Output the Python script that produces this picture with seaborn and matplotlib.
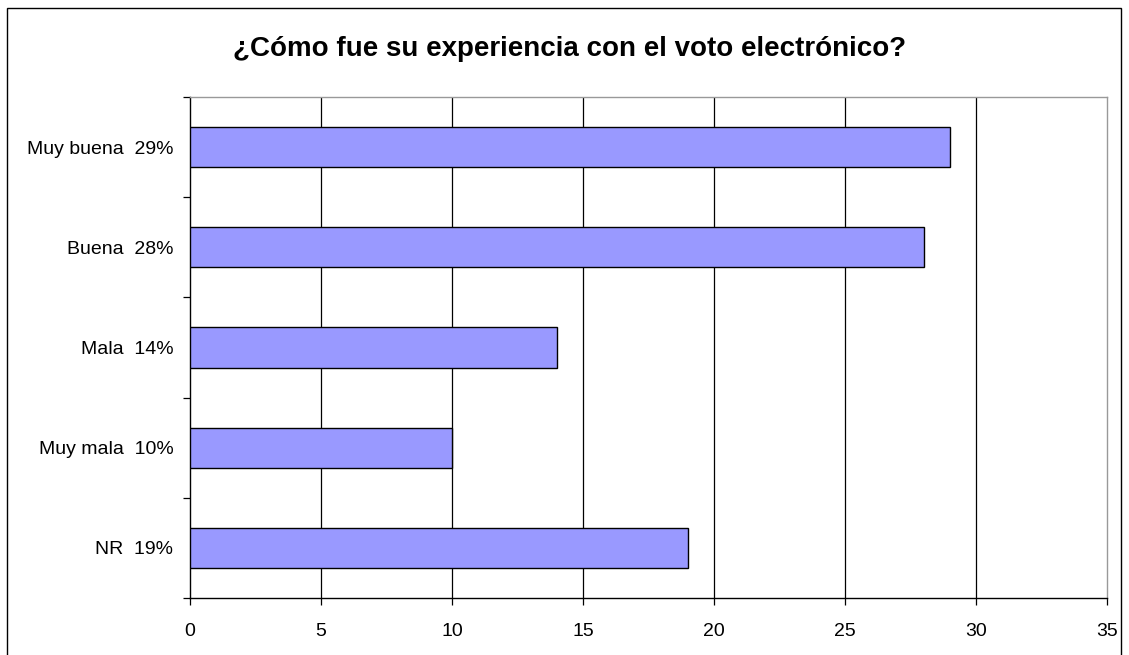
import matplotlib
matplotlib.use("Agg")
import matplotlib.pyplot as plt
import seaborn as sns
import pandas as pd
import numpy as np
from matplotlib.patches import Rectangle

# datos
categorias = ["Muy buena  29%", "Buena  28%", "Mala  14%", "Muy mala  10%", "NR  19%"]
valores = [29, 28, 14, 10, 19]
xticks = [0, 5, 10, 15, 20, 25, 30, 35]
titulo = "¿Cómo fue su experiencia con el voto electrónico?"

df = pd.DataFrame({"categoria": categorias, "valor": valores})

sns.set_theme(style="white")
plt.rcParams["font.family"] = ["Liberation Sans", "DejaVu Sans"]
plt.rcParams["text.color"] = "#000000"

fig = plt.figure(figsize=(11.29, 6.55), dpi=100)
ax = fig.add_axes([190 / 1129, 1 - 598 / 655, (1107 - 190) / 1129, (598 - 97) / 655])

sns.barplot(data=df, x="valor", y="categoria", orient="h", color="#9999FF",
            saturation=1, width=0.4, edgecolor="#000000", linewidth=1.0, ax=ax, zorder=3)

ax.set_xlim(0, 35)
ax.set_ylim(len(categorias) - 0.5, -0.5)
ax.set_xticks(xticks)
ax.set_xticklabels([str(t) for t in xticks], fontsize=14)
ax.set_xlabel("")
ax.set_ylabel("")

# lineas verticales de la cuadricula
for t in xticks[1:-1]:
    ax.axvline(t, color="#000000", linewidth=0.9, zorder=1)

# marcas del eje y entre categorias
ax.set_yticks(np.arange(len(categorias)))
ax.set_yticklabels(categorias, fontsize=14)
ax.set_yticks(np.arange(-0.5, len(categorias), 1.0), minor=True)
ax.tick_params(axis="y", which="major", length=0, pad=12, labelcolor="#000000")
ax.tick_params(axis="y", which="minor", length=5, width=0.9, color="#000000", left=True)
ax.tick_params(axis="x", which="major", length=5, width=0.9, color="#000000",
               labelcolor="#000000", bottom=True, pad=13)

for side in ["left", "bottom"]:
    ax.spines[side].set_color("#000000")
    ax.spines[side].set_linewidth(1.0)
for side in ["top", "right"]:
    ax.spines[side].set_visible(True)
    ax.spines[side].set_color("#999999")
    ax.spines[side].set_linewidth(1.0)

fig.text(570 / 1129, 1 - 49 / 655, titulo, ha="center", va="center",
         fontsize=20, fontweight="bold", color="#000000")

# marco exterior del grafico
fig.patches.append(Rectangle((7 / 1129, -0.05), (1121 - 7) / 1129, 1.05 - 8 / 655,
                             transform=fig.transFigure, fill=False,
                             edgecolor="#000000", linewidth=1.0))

fig.savefig("out.png", dpi=100)
